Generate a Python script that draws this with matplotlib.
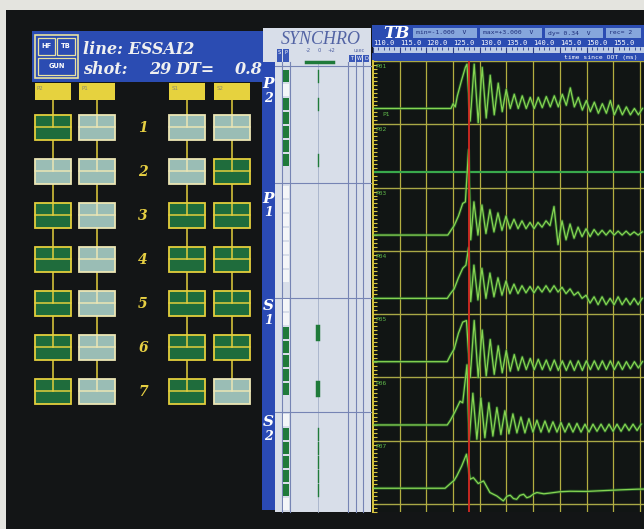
import matplotlib
matplotlib.use('Agg')
import matplotlib.pyplot as plt
from matplotlib.patches import Rectangle
from matplotlib.ticker import MultipleLocator, FixedLocator, FormatStrFormatter, NullFormatter
import numpy as np

W, H = 644, 529
SERIF = 'Liberation Serif'
WIDE_SERIF = 'DejaVu Serif'
MONO = 'DejaVu Sans Mono'

# ---- gun array status (1 = firing) ----
subarrays = ['P2', 'P1', 'S1', 'S2']
gun_rows = [1, 2, 3, 4, 5, 6, 7]
gun_on = {
    'P2': [1, 0, 1, 1, 1, 1, 1],
    'P1': [0, 0, 0, 0, 0, 0, 0],
    'S1': [0, 0, 1, 1, 1, 1, 1],
    'S2': [0, 1, 1, 1, 1, 1, 0],
}
# synchro timing marks: (sub-array, row, heavy)
sync_marks = [('P2', 1, 0), ('P2', 3, 0), ('P2', 7, 0),
              ('S1', 3, 1), ('S1', 7, 1),
              ('S2', 2, 0), ('S2', 3, 0), ('S2', 4, 0), ('S2', 5, 0), ('S2', 6, 0)]

line_name = 'ESSAI2'
shot_no = 29
shot_dt = 0.8
tb_min, tb_max, tb_dy, tb_rec = -1.000, 3.000, 0.34, 2
t_ticks = [110.0, 115.0, 120.0, 125.0, 130.0, 135.0, 140.0, 145.0, 150.0, 155.0]
t_pick = 128.0   # red marker (ms)

# ---- near-field hydrophone traces (volts vs ms since OOT) ----
trace_names = ['P01', 'P02', 'P03', 'P04', 'P05', 'P06', 'P07']
onset_t = {
    'P01': [110.0, 124.6, 125.0, 125.4, 125.8, 126.6, 127.3, 127.6],
    'P02': [110.0, 160.7],
    'P03': [110.0, 124.0, 124.6, 125.2, 126.0, 126.8, 127.3, 127.9, 128.3],
    'P04': [110.0, 123.9, 124.5, 125.2, 126.0, 126.8, 127.4, 127.9, 128.3],
    'P05': [110.0, 123.9, 124.5, 125.2, 126.0, 126.8, 127.5],
    'P06': [110.0, 123.9, 124.5, 125.3, 126.3, 126.8, 127.6, 128.0],
    'P07': [110.0, 123.5, 124.7, 125.2, 125.7, 126.6, 127.5, 128.2, 128.8, 129.7,
            130.7, 131.9, 133.2, 134.4, 135.1, 135.7, 136.3, 136.9, 137.5, 138.2,
            138.8, 139.4, 140.1, 140.7, 142.0, 143.2, 145.0, 146.9, 150.0, 153.1,
            156.3, 159.4, 160.7],
}
onset_v = {
    'P01': [0.0, 0.0, 0.3, 0.1, 0.8, 1.8, 2.6, 2.8],
    'P02': [0.0, 0.0],
    'P03': [0.0, 0.0, 0.3, 0.6, 1.2, 2.0, 2.1, 5.4, -0.3],
    'P04': [0.0, 0.0, 0.3, 0.6, 1.3, 1.9, 2.1, 3.2, -0.2],
    'P05': [0.0, 0.0, 0.4, 0.8, 1.8, 2.5, 2.6],
    'P06': [0.0, 0.0, 0.3, 0.8, 1.5, 1.4, 3.8, -1.0],
    'P07': [0.0, 0.0, 0.36, 0.5, 0.78, 1.4, 2.15, 0.57, 0.67, 0.3,
            0.46, -0.27, -0.49, -0.8, -0.5, -0.44, -0.65, -0.7, -0.45, -0.38,
            -0.6, -0.53, -0.35, -0.27, -0.35, -0.3, -0.22, -0.19, -0.2, -0.15,
            -0.1, -0.06, -0.05],
}
# bubble ringing: alternating extremes every ring_dt ms from ring_t0
ring_dt = 0.75
ring_t0 = {'P01': 128.2, 'P03': 128.9, 'P04': 128.9, 'P05': 128.2, 'P06': 128.7}
ring_v = {
    'P01': [-0.8, 2.8, -0.9, 2.6, -0.6, 2.1, -0.4, 1.6, -0.2, 1.2, 0.0, 0.9, 0.0, 0.8,
            0.0, 0.7, 0.0, 0.7, 0.05, 0.75, 0.1, 0.8, 0.1, 0.9, 0.2, 1.3, 0.1, 0.7,
            -0.1, 0.5, -0.2, 0.4, -0.3, 0.3, -0.3, 0.5, -0.4, 0.2, -0.4, 0.1, -0.4,
            0.0, -0.4, 0.0],
    'P03': [2.1, 0.0, 1.9, 0.1, 1.6, 0.2, 1.4, 0.3, 1.2, 0.4, 1.0, 0.4, 0.9, 0.4,
            0.8, 0.4, 0.8, 0.5, 0.9, 0.6, 1.8, -0.6, 0.9, -0.3, 0.7, -0.2, 0.5, -0.1,
            0.4, -0.1, 0.35, 0.0, 0.3, 0.0, 0.3, 0.0, 0.25, 0.0, 0.25, 0.0, 0.2, 0.0,
            0.2],
    'P04': [2.1, -0.1, 1.9, 0.0, 1.6, 0.1, 1.3, 0.2, 1.1, 0.3, 0.9, 0.3, 0.8, 0.35,
            0.75, 0.35, 0.75, 0.4, 0.8, 0.4, 0.8, 0.4, 0.7, 0.3, 0.6, 0.2, 0.4, 0.0,
            0.2, -0.3, 0.1, -0.4, 0.1, -0.4, 0.0, -0.4, 0.1, -0.4, 0.0, -0.4, 0.0,
            -0.4, 0.0],
    'P05': [-1.0, 2.6, -1.0, 2.0, -0.9, 1.4, -0.8, 1.0, -0.7, 0.7, -0.6, 0.45, -0.55,
            0.3, -0.5, 0.2, -0.5, 0.15, -0.5, 0.1, -0.55, 0.1, -0.55, 0.05, -0.55,
            0.05, -0.55, 0.05, -0.55, 0.05, -0.5, 0.05, -0.5, 0.05, -0.5, 0.05, -0.5,
            0.0, -0.5, 0.0, -0.45, 0.0, -0.4, 0.0],
    'P06': [2.0, -0.9, 1.7, -0.8, 1.4, -0.7, 1.1, -0.6, 0.9, -0.55, 0.7, -0.5, 0.5,
            -0.5, 0.4, -0.45, 0.3, -0.45, 0.25, -0.45, 0.2, -0.45, 0.15, -0.45, 0.1,
            -0.45, 0.1, -0.45, 0.05, -0.45, 0.05, -0.4, 0.05, -0.4, 0.05, -0.4, 0.05,
            -0.4, 0.05, -0.35, 0.05, -0.35, 0.05],
}

# screen layout (pixels)
col_x = {'P2': 53, 'P1': 97.5, 'S1': 187.5, 'S2': 232.5}
row_y0, row_step = 127.5, 44
sync_top = {'P2': 70, 'P1': 186, 'S1': 299, 'S2': 414}
sync_sep = [66, 183, 298, 412]
strip_mid = {'P2': 90, 'P1': 205, 'S1': 312, 'S2': 428}

fig = plt.figure(figsize=(W / 100, H / 100), dpi=100)
fig.patch.set_facecolor('#e4e4df')
ax = fig.add_axes([0, 0, 1, 1])
ax.set_xlim(0, W)
ax.set_ylim(H, 0)
ax.axis('off')


def rect(x0, y0, x1, y1, fc, ec='none', lw=0.0, z=1):
    ax.add_patch(Rectangle((x0, y0), x1 - x0, y1 - y0, fc=fc, ec=ec, lw=lw, zorder=z))


def fig_rect(x0, y0, x1, y1):
    return [x0 / W, 1 - y1 / H, (x1 - x0) / W, (y1 - y0) / H]


# monitor screen
rect(6, 10, W, H, '#131516', z=0)

# --- header: line / shot ---
rect(32, 31, 263, 82, '#2b4cb2')
hdr = '#e8e2a0'
rect(35, 35, 78, 78, 'none', hdr, 1.2, z=2)
rect(38, 38, 55, 55, 'none', hdr, 0.9, z=2)
rect(57, 38, 75, 55, 'none', hdr, 0.9, z=2)
rect(38, 58, 75, 75, 'none', hdr, 0.9, z=2)
for x, y, s in [(46.5, 46.5, 'HF'), (66, 46.5, 'TB'), (56.5, 66.5, 'GUN')]:
    ax.text(x, y, s, color='white', fontsize=4.8, fontweight='bold',
            ha='center', va='center', zorder=3)
hkw = dict(family=WIDE_SERIF, style='italic', fontweight='bold', fontsize=11.5,
           color='#f0f0f0', va='center', zorder=3)
ax.text(83, 49, f'line: {line_name}', **hkw)
ax.text(83, 70, 'shot:', **hkw)
ax.text(171, 70, f'{shot_no}', ha='right', **hkw)
ax.text(175, 70, 'DT=', **hkw)
ax.text(263, 70, f'{shot_dt:.1f}', ha='right', **hkw)

# --- gun sub-array status ---
yel = '#e3cf3c'
pale_edge = '#ece6b4'
for sub in subarrays:
    cx = col_x[sub]
    rect(cx - 18, 83, cx + 18, 100, '#e6d23e', z=2)
    ax.text(cx - 16, 86, sub, color='#8a8a70', fontsize=4, va='top', zorder=3)
    last = row_y0 + row_step * (len(gun_rows) - 1)
    ax.plot([cx, cx], [100, last], color=yel, lw=1.1, zorder=1.5)
    for r, on in zip(gun_rows, gun_on[sub]):
        cy = row_y0 + row_step * (r - 1)
        x0, y0 = cx - 18, cy - 12.5
        fc = '#1f6c3c' if on else '#9abdb5'
        ec = yel if on else pale_edge
        rect(x0, y0, x0 + 36, y0 + 25, fc, ec, 1.3, z=2)
        ax.plot([x0, x0 + 36], [y0 + 12, y0 + 12], color=ec, lw=1.1, zorder=3)
        ax.plot([cx, cx], [y0, y0 + 12], color=ec, lw=1.1, zorder=3)
for r in gun_rows:
    ax.text(143, row_y0 + row_step * (r - 1), str(r), family=WIDE_SERIF, style='italic',
            fontweight='bold', fontsize=10, color='#e6cf42', ha='center',
            va='center', zorder=3)

# --- synchro panel ---
rect(263, 28, 371, 62, '#d8dee9')
rect(275, 62, 371, 512, '#d8dee9')
rect(262, 62, 275, 510, '#2a4ab4')
for sub in subarrays:
    mid = strip_mid[sub]
    ax.text(268.5, mid - 6, sub[0], family=WIDE_SERIF, style='italic', fontweight='bold',
            fontsize=11, color='white', ha='center', va='center', zorder=3)
    ax.text(268.5, mid + 8, sub[1], family=WIDE_SERIF, style='italic', fontweight='bold',
            fontsize=9, color='white', ha='center', va='center', zorder=3)
ax.text(321, 40, 'SYNCHRO', family=SERIF, style='italic', fontsize=13,
        color='#5364a4', ha='center', va='center', zorder=3)
rect(277, 49, 282, 62, '#3a58b8', z=2)
rect(283, 49, 289, 62, '#3a58b8', z=2)
ax.text(279.5, 52, 'S', color='white', fontsize=3.5, ha='center', va='center', zorder=3)
ax.text(286, 52, 'P', color='white', fontsize=3.5, ha='center', va='center', zorder=3)
for x, s in [(308, '-2'), (319, '0'), (331, '+2')]:
    ax.text(x, 51, s, color='#5364a4', fontsize=3.8, ha='center', va='center', zorder=3)
ax.plot([306, 333], [62, 62], color='#1f7a3a', lw=2.5, zorder=3)
ax.text(359, 51, 'usec', color='#5364a4', fontsize=3.5, ha='center', va='center', zorder=3)
for x0, s in [(349, 'T'), (356, 'W'), (363, 'D')]:
    rect(x0, 55, x0 + 6, 62, '#3a58b8', z=2)
    ax.text(x0 + 3, 58.5, s, color='white', fontsize=3.5, ha='center', va='center', zorder=3)
for x in [282, 290, 348, 356, 363]:
    ax.plot([x, x], [62, 512], color='#7684b4', lw=0.8, zorder=2)
ax.plot([318.5, 318.5], [62, 512], color='#a4b0c8', lw=0.6, zorder=2)
for y in sync_sep:
    ax.plot([275, 371], [y, y], color='#7684b4', lw=0.8, zorder=2)
for sub in subarrays:
    for r, on in zip(gun_rows, gun_on[sub]):
        y0 = sync_top[sub] + 14 * (r - 1)
        rect(283.5, y0, 289.5, y0 + 12, '#1f7a3a' if on else '#f4f6f8', z=3)
for sub, r, heavy in sync_marks:
    y0 = sync_top[sub] + 14 * (r - 1)
    ax.plot([318.5, 318.5], [y0, y0 + 12], color='#1f7a3a',
            lw=3.2 if heavy else 1.0, zorder=3)

# --- TB header ---
rect(372, 25, W, 47, '#2b4cb2')
rect(372, 53, W, 61, '#2b4cb2')
ax.text(383, 33, 'TB', family=WIDE_SERIF, style='italic', fontweight='bold',
        fontsize=12, color='white', va='center', zorder=3)
boxes = [(413, 477, f'min={tb_min:.3f}  V'),
         (480, 542, f'max={tb_max:+.3f}  V'),
         (545, 603, f'dy= {tb_dy:.2f}  V'),
         (606, 641, f'rec= {tb_rec}')]
for x0, x1, s in boxes:
    rect(x0, 28, x1, 38, '#86a6dc', z=2)
    ax.text(x0 + 3, 33, s, family=MONO, fontsize=4.6, color='#1c2c78',
            va='center', zorder=3)
ax.text(638, 57, 'time since OOT (ms)', family=MONO, fontsize=4.6,
        color='white', ha='right', va='center', zorder=3)

t_right = 110 + (W - 373) / 26.7 * 5

# time ruler
axr = fig.add_axes(fig_rect(373, 47, W, 53))
axr.set_facecolor('#bccbe6')
axr.set_xlim(110, t_right)
axr.set_ylim(0, 1)
axr.xaxis.set_major_locator(FixedLocator(t_ticks))
axr.xaxis.set_major_formatter(FormatStrFormatter('%.1f'))
axr.xaxis.set_minor_locator(MultipleLocator(1))
axr.xaxis.tick_top()
axr.tick_params(axis='x', which='major', direction='in', length=4, width=0.8,
                color='#2b3c88', labelsize=5, labelcolor='white', pad=0.5)
axr.tick_params(axis='x', which='minor', direction='in', length=2.5, width=0.6,
                color='#2b3c88')
for lab in axr.get_xticklabels():
    lab.set_horizontalalignment('left')
    lab.set_family(MONO)
axr.set_yticks([])
for s in axr.spines.values():
    s.set_visible(False)

# trace display
axt = fig.add_axes(fig_rect(373, 61, W, 512))
axt.set_facecolor('#111514')
axt.set_xlim(110, t_right)
axt.set_ylim(-25.5, 3)
n = len(trace_names)
for k in range(n + 1):
    axt.axhline(3 - 4 * k, color='#a9a846', lw=1.0, zorder=1)
for t in t_ticks[1:] + [160.0]:
    axt.axvline(t, color='#b3ae40', lw=0.9, zorder=1)
axt.axvline(t_pick, color='#d42a22', lw=1.3, zorder=4)
for k, name in enumerate(trace_names):
    t = list(onset_t[name])
    v = list(onset_v[name])
    if name in ring_v:
        rv = ring_v[name]
        t += list(ring_t0[name] + ring_dt * np.arange(len(rv)))
        v += rv
    t = np.array(t)
    v = np.array(v) - 4 * k
    if name == 'P02':
        axt.plot(t, v, color='#39a94c', lw=1.6, zorder=2)
    else:
        axt.plot(t, v, color='#2f7d2c', lw=2.2, alpha=0.55, zorder=2)
        axt.plot(t, v, color='#86d452', lw=0.9, zorder=3)
    axt.text(110.4, 3 - 4 * k - 0.2, name, color='#5fb84a', fontsize=4.5,
             family=MONO, va='top', zorder=5)
axt.text(111.8, -0.2, 'P1', color='#5fb84a', fontsize=4.5, family=MONO,
         va='top', zorder=5)
axt.yaxis.set_major_locator(MultipleLocator(0.25))
axt.yaxis.set_major_formatter(NullFormatter())
axt.tick_params(axis='y', direction='in', length=3, width=0.8, color='#d8c640')
axt.set_xticks([])
for s in ['top', 'right', 'bottom']:
    axt.spines[s].set_visible(False)
axt.spines['left'].set_color('#d8c640')
axt.spines['left'].set_linewidth(1.4)

fig.savefig('out.png', dpi=100, facecolor=fig.get_facecolor())
